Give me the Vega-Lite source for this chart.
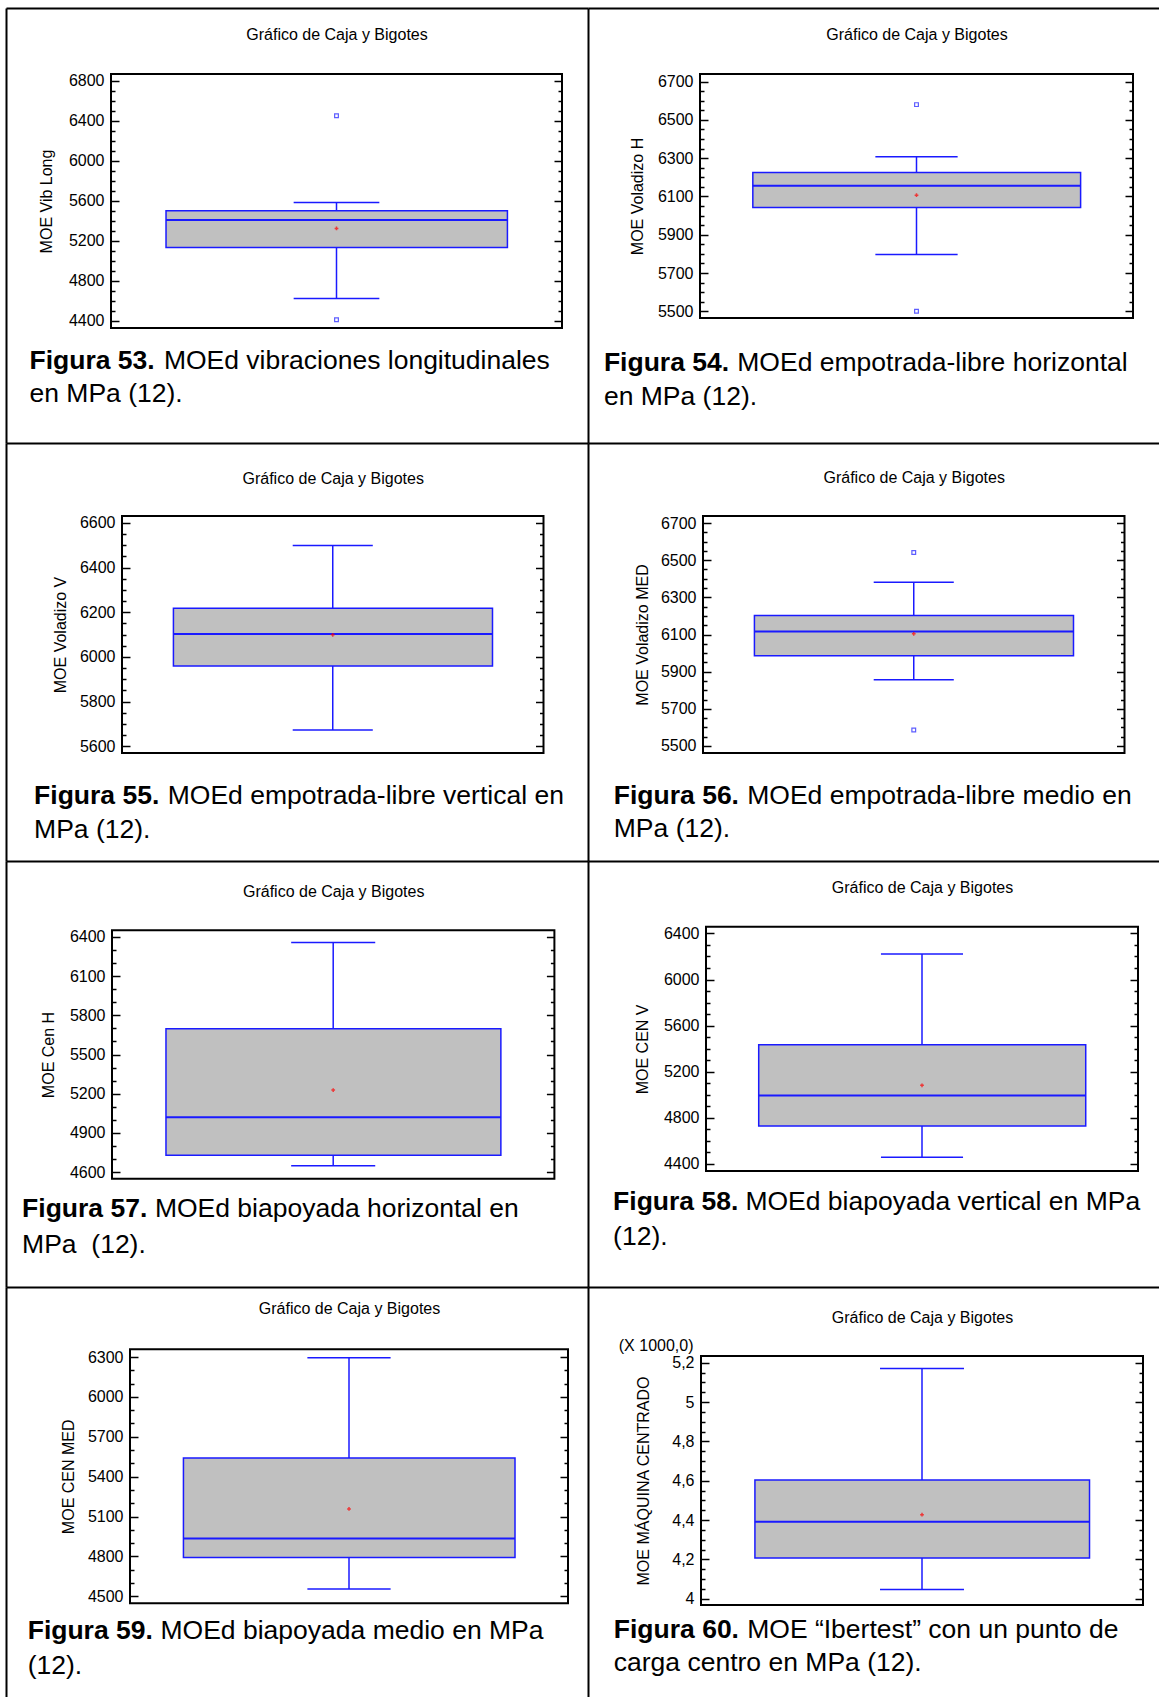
{
  "$schema": "https://vega.github.io/schema/vega-lite/v6.json",
  "background": "white",
  "padding": {"left": 6, "top": 8, "right": 0, "bottom": 0},
  "autosize": {"type": "pad"},
  "bounds": "flush",
  "spacing": 0,
  "columns": 2,
  "config": {
    "font": "Liberation Sans",
    "view": {"stroke": null},
    "axis": {
      "labelFont": "Liberation Sans", "titleFont": "Liberation Sans",
      "labelColor": "black", "titleColor": "black", "tickColor": "black",
      "grid": false, "domain": false, "titleFontWeight": "normal",
      "labelFlush": false, "labelOverlap": false, "labelBound": false,
      "titleLimit": 2000, "labelLimit": 500
    }
  },
  "datasets": {
    "stats": [
      {"panel": 53, "lo": 4623, "q1": 5133, "median": 5407, "q3": 5500, "hi": 5583, "mean": 5323},
      {"panel": 54, "lo": 5797, "q1": 6043, "median": 6156, "q3": 6225, "hi": 6307, "mean": 6107},
      {"panel": 55, "lo": 5673, "q1": 5960, "median": 6103, "q3": 6218, "hi": 6499, "mean": 6099},
      {"panel": 56, "lo": 5856, "q1": 5985, "median": 6116, "q3": 6202, "hi": 6381, "mean": 6104},
      {"panel": 57, "lo": 4649, "q1": 4728, "median": 5019, "q3": 5698, "hi": 6357, "mean": 5228},
      {"panel": 58, "lo": 4458, "q1": 4730, "median": 4993, "q3": 5435, "hi": 6221, "mean": 5082},
      {"panel": 59, "lo": 4555, "q1": 4791, "median": 4934, "q3": 5540, "hi": 6295, "mean": 5157},
      {"panel": 60, "lo": 4047, "q1": 4207, "median": 4391, "q3": 4603, "hi": 5170, "mean": 4427}
    ],
    "outliers": [
      {"panel": 53, "value": 6450}, {"panel": 53, "value": 4410},
      {"panel": 54, "value": 6580}, {"panel": 54, "value": 5500},
      {"panel": 56, "value": 6541}, {"panel": 56, "value": 5586}
    ]
  },
  "concat": [
    {
      "width": 582, "height": 435,
      "data": {"name": "stats"},
      "transform": [{"filter": "datum.panel === 53"}],
      "resolve": {"scale": {"x": "independent", "y": "independent"}, "axis": {"x": "independent", "y": "independent"}},
      "layer": [
        {"mark": {"type": "point", "opacity": 0, "size": 0},
         "encoding": {
           "x": {"datum": 0.5, "type": "quantitative", "scale": {"domain": [0, 1], "nice": false, "zero": false}, "axis": {"orient": "top", "domain": true, "domainColor": "black", "domainWidth": 2, "ticks": false, "labels": false, "title": null}},
           "y": {"datum": 0.5, "type": "quantitative", "scale": {"domain": [0, 1], "nice": false, "zero": false}, "axis": {"orient": "left", "domain": true, "domainColor": "black", "domainWidth": 2, "ticks": false, "labels": false, "title": null}}
         }},
        {"resolve": {"axis": {"x": "independent", "y": "independent"}},
         "layer": [
          {"mark": {"type": "rect", "filled": false, "stroke": "black", "strokeWidth": 2},
           "encoding": {
             "x": {"datum": 0, "type": "quantitative", "scale": {"domain": [0, 1], "range": [105, 556], "nice": false, "zero": false},
                   "axis": {"orient": "top", "offset": 0, "ticks": false, "labels": false, "title": "Gráfico de Caja y Bigotes", "titleFontSize": 16, "titleX": 330.5, "titleY": 31, "titleAlign": "center", "titleBaseline": "alphabetic"}},
             "x2": {"datum": 1},
             "y": {"datum": 4327, "type": "quantitative", "scale": {"domain": [4327, 6867], "range": [320, 66], "nice": false, "zero": false},
                   "axis": {"orient": "left", "offset": -105, "ticks": false, "tickSize": 0, "values": [4400, 4800, 5200, 5600, 6000, 6400, 6800], "format": "d", "labelFontSize": 16, "labelPadding": 7,
                            "title": "MOE Vib Long", "titleFontSize": 16, "titleAngle": 270, "titleX": -65, "titleY": 193, "titleAlign": "center", "titleBaseline": "middle"}},
             "y2": {"datum": 6867}
           }},
          {"mark": {"type": "rule", "color": "#1a1aff", "strokeWidth": 1.5},
           "encoding": {
             "x": {"datum": 0.5, "type": "quantitative", "axis": {"orient": "bottom", "offset": -435, "ticks": false, "labels": false, "title": "Figura 53.", "titleFontSize": 26.5, "titleFontWeight": "bold", "titleX": 23, "titleY": 360, "titleAlign": "left", "titleBaseline": "alphabetic"}},
             "y": {"field": "lo", "type": "quantitative", "axis": {"orient": "right", "offset": -477, "labels": false, "values": [4400, 4800, 5200, 5600, 6000, 6400, 6800], "tickSize": 8, "tickWidth": 1.5, "title": null}},
             "y2": {"field": "hi"}
           }},
          {"mark": {"type": "rect", "fill": "#c0c0c0", "stroke": "#1a1aff", "strokeWidth": 1.5},
           "encoding": {
             "x": {"datum": 0.122, "type": "quantitative", "axis": {"orient": "bottom", "offset": -435, "ticks": false, "labels": false, "title": "MOEd vibraciones longitudinales", "titleFontSize": 26.5, "titleX": 157.4, "titleY": 360, "titleAlign": "left", "titleBaseline": "alphabetic"}},
             "x2": {"datum": 0.879},
             "y": {"field": "q1", "type": "quantitative", "axis": {"orient": "right", "offset": -477, "labels": false, "values": [4500, 4600, 4700, 4900, 5000, 5100, 5300, 5400, 5500, 5700, 5800, 5900, 6100, 6200, 6300, 6500, 6600, 6700], "tickSize": 4, "tickWidth": 1.5, "title": null}},
             "y2": {"field": "q3"}
           }},
          {"mark": {"type": "rule", "color": "#1a1aff", "strokeWidth": 2},
           "encoding": {
             "x": {"datum": 0.122, "type": "quantitative", "axis": {"orient": "bottom", "offset": -435, "ticks": false, "labels": false, "title": "en MPa (12).", "titleFontSize": 26.5, "titleX": 23, "titleY": 393, "titleAlign": "left", "titleBaseline": "alphabetic"}},
             "x2": {"datum": 0.879},
             "y": {"field": "median", "type": "quantitative", "axis": {"orient": "left", "offset": -556, "labels": false, "values": [4400, 4800, 5200, 5600, 6000, 6400, 6800], "tickSize": 8, "tickWidth": 1.5, "title": null}}
           }},
          {"transform": [{"fold": ["lo", "hi"], "as": ["end", "value"]}],
           "mark": {"type": "rule", "color": "#1a1aff", "strokeWidth": 1.5},
           "encoding": {
             "x": {"datum": 0.405, "type": "quantitative", "axis": null},
             "x2": {"datum": 0.595},
             "y": {"field": "value", "type": "quantitative", "axis": {"orient": "left", "offset": -556, "labels": false, "values": [4500, 4600, 4700, 4900, 5000, 5100, 5300, 5400, 5500, 5700, 5800, 5900, 6100, 6200, 6300, 6500, 6600, 6700], "tickSize": 4, "tickWidth": 1.5, "title": null}}
           }},
          {"mark": {"type": "point", "shape": "cross", "filled": true, "color": "#ff0000", "size": 14},
           "encoding": {"x": {"datum": 0.5, "type": "quantitative", "axis": null}, "y": {"field": "mean", "type": "quantitative", "axis": null}}},
          {"data": {"name": "outliers"}, "transform": [{"filter": "datum.panel === 53"}],
           "mark": {"type": "point", "shape": "square", "filled": false, "color": "#1a1aff", "size": 14, "strokeWidth": 1.2},
           "encoding": {"x": {"datum": 0.5, "type": "quantitative", "axis": null}, "y": {"field": "value", "type": "quantitative", "axis": null}}}
         ]}
      ]
    },
    {
      "width": 571, "height": 435,
      "data": {"name": "stats"},
      "transform": [{"filter": "datum.panel === 54"}],
      "resolve": {"scale": {"x": "independent", "y": "independent"}, "axis": {"x": "independent", "y": "independent"}},
      "layer": [
        {"mark": {"type": "point", "opacity": 0, "size": 0},
         "encoding": {
           "x": {"datum": 0.5, "type": "quantitative", "scale": {"domain": [0, 1], "nice": false, "zero": false}, "axis": {"orient": "top", "domain": true, "domainColor": "black", "domainWidth": 2, "ticks": false, "labels": false, "title": null}},
           "y": {"datum": 0.5, "type": "quantitative", "scale": {"domain": [0, 1], "nice": false, "zero": false}, "axis": {"orient": "left", "domain": true, "domainColor": "black", "domainWidth": 2, "ticks": false, "labels": false, "title": null}}
         }},
        {"resolve": {"axis": {"x": "independent", "y": "independent"}},
         "layer": [
          {"mark": {"type": "rect", "filled": false, "stroke": "black", "strokeWidth": 2},
           "encoding": {
             "x": {"datum": 0, "type": "quantitative", "scale": {"domain": [0, 1], "range": [112, 545], "nice": false, "zero": false},
                   "axis": {"orient": "top", "offset": 0, "ticks": false, "labels": false, "title": "Gráfico de Caja y Bigotes", "titleFontSize": 16, "titleX": 328.5, "titleY": 31.7, "titleAlign": "center", "titleBaseline": "alphabetic"}},
             "x2": {"datum": 1},
             "y": {"datum": 5465, "type": "quantitative", "scale": {"domain": [5465, 6740], "range": [310, 66], "nice": false, "zero": false},
                   "axis": {"orient": "left", "offset": -112, "ticks": false, "tickSize": 0, "values": [5500, 5700, 5900, 6100, 6300, 6500, 6700], "format": "d", "labelFontSize": 16, "labelPadding": 7,
                            "title": "MOE Voladizo H", "titleFontSize": 16, "titleAngle": 270, "titleX": -63, "titleY": 188, "titleAlign": "center", "titleBaseline": "middle"}},
             "y2": {"datum": 6740}
           }},
          {"mark": {"type": "rule", "color": "#1a1aff", "strokeWidth": 1.5},
           "encoding": {
             "x": {"datum": 0.5, "type": "quantitative", "axis": {"orient": "bottom", "offset": -435, "ticks": false, "labels": false, "title": "Figura 54.", "titleFontSize": 26.5, "titleFontWeight": "bold", "titleX": 15.4, "titleY": 362, "titleAlign": "left", "titleBaseline": "alphabetic"}},
             "y": {"field": "lo", "type": "quantitative", "axis": {"orient": "right", "offset": -459, "labels": false, "values": [5500, 5700, 5900, 6100, 6300, 6500, 6700], "tickSize": 8, "tickWidth": 1.5, "title": null}},
             "y2": {"field": "hi"}
           }},
          {"mark": {"type": "rect", "fill": "#c0c0c0", "stroke": "#1a1aff", "strokeWidth": 1.5},
           "encoding": {
             "x": {"datum": 0.122, "type": "quantitative", "axis": {"orient": "bottom", "offset": -435, "ticks": false, "labels": false, "title": "MOEd empotrada-libre horizontal", "titleFontSize": 26.5, "titleX": 148.8, "titleY": 362, "titleAlign": "left", "titleBaseline": "alphabetic"}},
             "x2": {"datum": 0.879},
             "y": {"field": "q1", "type": "quantitative", "axis": {"orient": "right", "offset": -459, "labels": false, "values": [5550, 5600, 5650, 5750, 5800, 5850, 5950, 6000, 6050, 6150, 6200, 6250, 6350, 6400, 6450, 6550, 6600, 6650], "tickSize": 4, "tickWidth": 1.5, "title": null}},
             "y2": {"field": "q3"}
           }},
          {"mark": {"type": "rule", "color": "#1a1aff", "strokeWidth": 2},
           "encoding": {
             "x": {"datum": 0.122, "type": "quantitative", "axis": {"orient": "bottom", "offset": -435, "ticks": false, "labels": false, "title": "en MPa (12).", "titleFontSize": 26.5, "titleX": 15.4, "titleY": 396, "titleAlign": "left", "titleBaseline": "alphabetic"}},
             "x2": {"datum": 0.879},
             "y": {"field": "median", "type": "quantitative", "axis": {"orient": "left", "offset": -545, "labels": false, "values": [5500, 5700, 5900, 6100, 6300, 6500, 6700], "tickSize": 8, "tickWidth": 1.5, "title": null}}
           }},
          {"transform": [{"fold": ["lo", "hi"], "as": ["end", "value"]}],
           "mark": {"type": "rule", "color": "#1a1aff", "strokeWidth": 1.5},
           "encoding": {
             "x": {"datum": 0.405, "type": "quantitative", "axis": null},
             "x2": {"datum": 0.595},
             "y": {"field": "value", "type": "quantitative", "axis": {"orient": "left", "offset": -545, "labels": false, "values": [5550, 5600, 5650, 5750, 5800, 5850, 5950, 6000, 6050, 6150, 6200, 6250, 6350, 6400, 6450, 6550, 6600, 6650], "tickSize": 4, "tickWidth": 1.5, "title": null}}
           }},
          {"mark": {"type": "point", "shape": "cross", "filled": true, "color": "#ff0000", "size": 14},
           "encoding": {"x": {"datum": 0.5, "type": "quantitative", "axis": null}, "y": {"field": "mean", "type": "quantitative", "axis": null}}},
          {"data": {"name": "outliers"}, "transform": [{"filter": "datum.panel === 54"}],
           "mark": {"type": "point", "shape": "square", "filled": false, "color": "#1a1aff", "size": 14, "strokeWidth": 1.2},
           "encoding": {"x": {"datum": 0.5, "type": "quantitative", "axis": null}, "y": {"field": "value", "type": "quantitative", "axis": null}}}
         ]}
      ]
    },
    {
      "width": 582, "height": 418,
      "data": {"name": "stats"},
      "transform": [{"filter": "datum.panel === 55"}],
      "resolve": {"scale": {"x": "independent", "y": "independent"}, "axis": {"x": "independent", "y": "independent"}},
      "layer": [
        {"mark": {"type": "point", "opacity": 0, "size": 0},
         "encoding": {
           "x": {"datum": 0.5, "type": "quantitative", "scale": {"domain": [0, 1], "nice": false, "zero": false}, "axis": {"orient": "top", "domain": true, "domainColor": "black", "domainWidth": 2, "ticks": false, "labels": false, "title": null}},
           "y": {"datum": 0.5, "type": "quantitative", "scale": {"domain": [0, 1], "nice": false, "zero": false}, "axis": {"orient": "left", "domain": true, "domainColor": "black", "domainWidth": 2, "ticks": false, "labels": false, "title": null}}
         }},
        {"resolve": {"axis": {"x": "independent", "y": "independent"}},
         "layer": [
          {"mark": {"type": "rect", "filled": false, "stroke": "black", "strokeWidth": 2},
           "encoding": {
             "x": {"datum": 0, "type": "quantitative", "scale": {"domain": [0, 1], "range": [116, 537.5], "nice": false, "zero": false},
                   "axis": {"orient": "top", "offset": 0, "ticks": false, "labels": false, "title": "Gráfico de Caja y Bigotes", "titleFontSize": 16, "titleX": 326.7, "titleY": 40.7, "titleAlign": "center", "titleBaseline": "alphabetic"}},
             "x2": {"datum": 1},
             "y": {"datum": 5570, "type": "quantitative", "scale": {"domain": [5570, 6631], "range": [310, 73], "nice": false, "zero": false},
                   "axis": {"orient": "left", "offset": -116, "ticks": false, "tickSize": 0, "values": [5600, 5800, 6000, 6200, 6400, 6600], "format": "d", "labelFontSize": 16, "labelPadding": 7,
                            "title": "MOE Voladizo V", "titleFontSize": 16, "titleAngle": 270, "titleX": -62, "titleY": 191.5, "titleAlign": "center", "titleBaseline": "middle"}},
             "y2": {"datum": 6631}
           }},
          {"mark": {"type": "rule", "color": "#1a1aff", "strokeWidth": 1.5},
           "encoding": {
             "x": {"datum": 0.5, "type": "quantitative", "axis": {"orient": "bottom", "offset": -418, "ticks": false, "labels": false, "title": "Figura 55.", "titleFontSize": 26.5, "titleFontWeight": "bold", "titleX": 27.6, "titleY": 360.7, "titleAlign": "left", "titleBaseline": "alphabetic"}},
             "y": {"field": "lo", "type": "quantitative", "axis": {"orient": "right", "offset": -466, "labels": false, "values": [5600, 5800, 6000, 6200, 6400, 6600], "tickSize": 8, "tickWidth": 1.5, "title": null}},
             "y2": {"field": "hi"}
           }},
          {"mark": {"type": "rect", "fill": "#c0c0c0", "stroke": "#1a1aff", "strokeWidth": 1.5},
           "encoding": {
             "x": {"datum": 0.122, "type": "quantitative", "axis": {"orient": "bottom", "offset": -418, "ticks": false, "labels": false, "title": "MOEd empotrada-libre vertical en", "titleFontSize": 26.5, "titleX": 161.2, "titleY": 360.7, "titleAlign": "left", "titleBaseline": "alphabetic"}},
             "x2": {"datum": 0.879},
             "y": {"field": "q1", "type": "quantitative", "axis": {"orient": "right", "offset": -466, "labels": false, "values": [5650, 5700, 5750, 5850, 5900, 5950, 6050, 6100, 6150, 6250, 6300, 6350, 6450, 6500, 6550], "tickSize": 4, "tickWidth": 1.5, "title": null}},
             "y2": {"field": "q3"}
           }},
          {"mark": {"type": "rule", "color": "#1a1aff", "strokeWidth": 2},
           "encoding": {
             "x": {"datum": 0.122, "type": "quantitative", "axis": {"orient": "bottom", "offset": -418, "ticks": false, "labels": false, "title": "MPa (12).", "titleFontSize": 26.5, "titleX": 27.6, "titleY": 394, "titleAlign": "left", "titleBaseline": "alphabetic"}},
             "x2": {"datum": 0.879},
             "y": {"field": "median", "type": "quantitative", "axis": {"orient": "left", "offset": -537.5, "labels": false, "values": [5600, 5800, 6000, 6200, 6400, 6600], "tickSize": 8, "tickWidth": 1.5, "title": null}}
           }},
          {"transform": [{"fold": ["lo", "hi"], "as": ["end", "value"]}],
           "mark": {"type": "rule", "color": "#1a1aff", "strokeWidth": 1.5},
           "encoding": {
             "x": {"datum": 0.405, "type": "quantitative", "axis": null},
             "x2": {"datum": 0.595},
             "y": {"field": "value", "type": "quantitative", "axis": {"orient": "left", "offset": -537.5, "labels": false, "values": [5650, 5700, 5750, 5850, 5900, 5950, 6050, 6100, 6150, 6250, 6300, 6350, 6450, 6500, 6550], "tickSize": 4, "tickWidth": 1.5, "title": null}}
           }},
          {"mark": {"type": "point", "shape": "cross", "filled": true, "color": "#ff0000", "size": 14},
           "encoding": {"x": {"datum": 0.5, "type": "quantitative", "axis": null}, "y": {"field": "mean", "type": "quantitative", "axis": null}}}
         ]}
      ]
    },
    {
      "width": 571, "height": 418,
      "data": {"name": "stats"},
      "transform": [{"filter": "datum.panel === 56"}],
      "resolve": {"scale": {"x": "independent", "y": "independent"}, "axis": {"x": "independent", "y": "independent"}},
      "layer": [
        {"mark": {"type": "point", "opacity": 0, "size": 0},
         "encoding": {
           "x": {"datum": 0.5, "type": "quantitative", "scale": {"domain": [0, 1], "nice": false, "zero": false}, "axis": {"orient": "top", "domain": true, "domainColor": "black", "domainWidth": 2, "ticks": false, "labels": false, "title": null}},
           "y": {"datum": 0.5, "type": "quantitative", "scale": {"domain": [0, 1], "nice": false, "zero": false}, "axis": {"orient": "left", "domain": true, "domainColor": "black", "domainWidth": 2, "ticks": false, "labels": false, "title": null}}
         }},
        {"resolve": {"axis": {"x": "independent", "y": "independent"}},
         "layer": [
          {"mark": {"type": "rect", "filled": false, "stroke": "black", "strokeWidth": 2},
           "encoding": {
             "x": {"datum": 0, "type": "quantitative", "scale": {"domain": [0, 1], "range": [115, 536.5], "nice": false, "zero": false},
                   "axis": {"orient": "top", "offset": 0, "ticks": false, "labels": false, "title": "Gráfico de Caja y Bigotes", "titleFontSize": 16, "titleX": 325.7, "titleY": 39.7, "titleAlign": "center", "titleBaseline": "alphabetic"}},
             "x2": {"datum": 1},
             "y": {"datum": 5462, "type": "quantitative", "scale": {"domain": [5462, 6738], "range": [310, 73], "nice": false, "zero": false},
                   "axis": {"orient": "left", "offset": -115, "ticks": false, "tickSize": 0, "values": [5500, 5700, 5900, 6100, 6300, 6500, 6700], "format": "d", "labelFontSize": 16, "labelPadding": 7,
                            "title": "MOE Voladizo MED", "titleFontSize": 16, "titleAngle": 270, "titleX": -61, "titleY": 191.5, "titleAlign": "center", "titleBaseline": "middle"}},
             "y2": {"datum": 6738}
           }},
          {"mark": {"type": "rule", "color": "#1a1aff", "strokeWidth": 1.5},
           "encoding": {
             "x": {"datum": 0.5, "type": "quantitative", "axis": {"orient": "bottom", "offset": -418, "ticks": false, "labels": false, "title": "Figura 56.", "titleFontSize": 26.5, "titleFontWeight": "bold", "titleX": 25.3, "titleY": 360, "titleAlign": "left", "titleBaseline": "alphabetic"}},
             "y": {"field": "lo", "type": "quantitative", "axis": {"orient": "right", "offset": -456, "labels": false, "values": [5500, 5700, 5900, 6100, 6300, 6500, 6700], "tickSize": 8, "tickWidth": 1.5, "title": null}},
             "y2": {"field": "hi"}
           }},
          {"mark": {"type": "rect", "fill": "#c0c0c0", "stroke": "#1a1aff", "strokeWidth": 1.5},
           "encoding": {
             "x": {"datum": 0.122, "type": "quantitative", "axis": {"orient": "bottom", "offset": -418, "ticks": false, "labels": false, "title": "MOEd empotrada-libre medio en", "titleFontSize": 26.5, "titleX": 158.7, "titleY": 360, "titleAlign": "left", "titleBaseline": "alphabetic"}},
             "x2": {"datum": 0.879},
             "y": {"field": "q1", "type": "quantitative", "axis": {"orient": "right", "offset": -456, "labels": false, "values": [5550, 5600, 5650, 5750, 5800, 5850, 5950, 6000, 6050, 6150, 6200, 6250, 6350, 6400, 6450, 6550, 6600, 6650], "tickSize": 4, "tickWidth": 1.5, "title": null}},
             "y2": {"field": "q3"}
           }},
          {"mark": {"type": "rule", "color": "#1a1aff", "strokeWidth": 2},
           "encoding": {
             "x": {"datum": 0.122, "type": "quantitative", "axis": {"orient": "bottom", "offset": -418, "ticks": false, "labels": false, "title": "MPa (12).", "titleFontSize": 26.5, "titleX": 25.3, "titleY": 393.3, "titleAlign": "left", "titleBaseline": "alphabetic"}},
             "x2": {"datum": 0.879},
             "y": {"field": "median", "type": "quantitative", "axis": {"orient": "left", "offset": -536.5, "labels": false, "values": [5500, 5700, 5900, 6100, 6300, 6500, 6700], "tickSize": 8, "tickWidth": 1.5, "title": null}}
           }},
          {"transform": [{"fold": ["lo", "hi"], "as": ["end", "value"]}],
           "mark": {"type": "rule", "color": "#1a1aff", "strokeWidth": 1.5},
           "encoding": {
             "x": {"datum": 0.405, "type": "quantitative", "axis": null},
             "x2": {"datum": 0.595},
             "y": {"field": "value", "type": "quantitative", "axis": {"orient": "left", "offset": -536.5, "labels": false, "values": [5550, 5600, 5650, 5750, 5800, 5850, 5950, 6000, 6050, 6150, 6200, 6250, 6350, 6400, 6450, 6550, 6600, 6650], "tickSize": 4, "tickWidth": 1.5, "title": null}}
           }},
          {"mark": {"type": "point", "shape": "cross", "filled": true, "color": "#ff0000", "size": 14},
           "encoding": {"x": {"datum": 0.5, "type": "quantitative", "axis": null}, "y": {"field": "mean", "type": "quantitative", "axis": null}}},
          {"data": {"name": "outliers"}, "transform": [{"filter": "datum.panel === 56"}],
           "mark": {"type": "point", "shape": "square", "filled": false, "color": "#1a1aff", "size": 14, "strokeWidth": 1.2},
           "encoding": {"x": {"datum": 0.5, "type": "quantitative", "axis": null}, "y": {"field": "value", "type": "quantitative", "axis": null}}}
         ]}
      ]
    },
    {
      "width": 582, "height": 426,
      "data": {"name": "stats"},
      "transform": [{"filter": "datum.panel === 57"}],
      "resolve": {"scale": {"x": "independent", "y": "independent"}, "axis": {"x": "independent", "y": "independent"}},
      "layer": [
        {"mark": {"type": "point", "opacity": 0, "size": 0},
         "encoding": {
           "x": {"datum": 0.5, "type": "quantitative", "scale": {"domain": [0, 1], "nice": false, "zero": false}, "axis": {"orient": "top", "domain": true, "domainColor": "black", "domainWidth": 2, "ticks": false, "labels": false, "title": null}},
           "y": {"datum": 0.5, "type": "quantitative", "scale": {"domain": [0, 1], "nice": false, "zero": false}, "axis": {"orient": "left", "domain": true, "domainColor": "black", "domainWidth": 2, "ticks": false, "labels": false, "title": null}}
         }},
        {"resolve": {"axis": {"x": "independent", "y": "independent"}},
         "layer": [
          {"mark": {"type": "rect", "filled": false, "stroke": "black", "strokeWidth": 2},
           "encoding": {
             "x": {"datum": 0, "type": "quantitative", "scale": {"domain": [0, 1], "range": [106, 548.4], "nice": false, "zero": false},
                   "axis": {"orient": "top", "offset": 0, "ticks": false, "labels": false, "title": "Gráfico de Caja y Bigotes", "titleFontSize": 16, "titleX": 327.2, "titleY": 35, "titleAlign": "center", "titleBaseline": "alphabetic"}},
             "x2": {"datum": 1},
             "y": {"datum": 4549, "type": "quantitative", "scale": {"domain": [4549, 6451], "range": [317.7, 69.3], "nice": false, "zero": false},
                   "axis": {"orient": "left", "offset": -106, "ticks": false, "tickSize": 0, "values": [4600, 4900, 5200, 5500, 5800, 6100, 6400], "format": "d", "labelFontSize": 16, "labelPadding": 7,
                            "title": "MOE Cen H", "titleFontSize": 16, "titleAngle": 270, "titleX": -64, "titleY": 193.5, "titleAlign": "center", "titleBaseline": "middle"}},
             "y2": {"datum": 6451}
           }},
          {"mark": {"type": "rule", "color": "#1a1aff", "strokeWidth": 1.5},
           "encoding": {
             "x": {"datum": 0.5, "type": "quantitative", "axis": {"orient": "bottom", "offset": -426, "ticks": false, "labels": false, "title": "Figura 57.", "titleFontSize": 26.5, "titleFontWeight": "bold", "titleX": 15.6, "titleY": 355, "titleAlign": "left", "titleBaseline": "alphabetic"}},
             "y": {"field": "lo", "type": "quantitative", "axis": {"orient": "right", "offset": -476, "labels": false, "values": [4600, 4900, 5200, 5500, 5800, 6100, 6400], "tickSize": 8, "tickWidth": 1.5, "title": null}},
             "y2": {"field": "hi"}
           }},
          {"mark": {"type": "rect", "fill": "#c0c0c0", "stroke": "#1a1aff", "strokeWidth": 1.5},
           "encoding": {
             "x": {"datum": 0.122, "type": "quantitative", "axis": {"orient": "bottom", "offset": -426, "ticks": false, "labels": false, "title": "MOEd biapoyada horizontal en", "titleFontSize": 26.5, "titleX": 148.4, "titleY": 355, "titleAlign": "left", "titleBaseline": "alphabetic"}},
             "x2": {"datum": 0.879},
             "y": {"field": "q1", "type": "quantitative", "axis": {"orient": "right", "offset": -476, "labels": false, "values": [4700, 4800, 5000, 5100, 5300, 5400, 5600, 5700, 5900, 6000, 6200, 6300], "tickSize": 4, "tickWidth": 1.5, "title": null}},
             "y2": {"field": "q3"}
           }},
          {"mark": {"type": "rule", "color": "#1a1aff", "strokeWidth": 2},
           "encoding": {
             "x": {"datum": 0.122, "type": "quantitative", "axis": {"orient": "bottom", "offset": -426, "ticks": false, "labels": false, "title": "MPa \u00a0(12).", "titleFontSize": 26.5, "titleX": 15.6, "titleY": 391.7, "titleAlign": "left", "titleBaseline": "alphabetic"}},
             "x2": {"datum": 0.879},
             "y": {"field": "median", "type": "quantitative", "axis": {"orient": "left", "offset": -548.4, "labels": false, "values": [4600, 4900, 5200, 5500, 5800, 6100, 6400], "tickSize": 8, "tickWidth": 1.5, "title": null}}
           }},
          {"transform": [{"fold": ["lo", "hi"], "as": ["end", "value"]}],
           "mark": {"type": "rule", "color": "#1a1aff", "strokeWidth": 1.5},
           "encoding": {
             "x": {"datum": 0.405, "type": "quantitative", "axis": null},
             "x2": {"datum": 0.595},
             "y": {"field": "value", "type": "quantitative", "axis": {"orient": "left", "offset": -548.4, "labels": false, "values": [4700, 4800, 5000, 5100, 5300, 5400, 5600, 5700, 5900, 6000, 6200, 6300], "tickSize": 4, "tickWidth": 1.5, "title": null}}
           }},
          {"mark": {"type": "point", "shape": "cross", "filled": true, "color": "#ff0000", "size": 14},
           "encoding": {"x": {"datum": 0.5, "type": "quantitative", "axis": null}, "y": {"field": "mean", "type": "quantitative", "axis": null}}}
         ]}
      ]
    },
    {
      "width": 571, "height": 426,
      "data": {"name": "stats"},
      "transform": [{"filter": "datum.panel === 58"}],
      "resolve": {"scale": {"x": "independent", "y": "independent"}, "axis": {"x": "independent", "y": "independent"}},
      "layer": [
        {"mark": {"type": "point", "opacity": 0, "size": 0},
         "encoding": {
           "x": {"datum": 0.5, "type": "quantitative", "scale": {"domain": [0, 1], "nice": false, "zero": false}, "axis": {"orient": "top", "domain": true, "domainColor": "black", "domainWidth": 2, "ticks": false, "labels": false, "title": null}},
           "y": {"datum": 0.5, "type": "quantitative", "scale": {"domain": [0, 1], "nice": false, "zero": false}, "axis": {"orient": "left", "domain": true, "domainColor": "black", "domainWidth": 2, "ticks": false, "labels": false, "title": null}}
         }},
        {"resolve": {"axis": {"x": "independent", "y": "independent"}},
         "layer": [
          {"mark": {"type": "rect", "filled": false, "stroke": "black", "strokeWidth": 2},
           "encoding": {
             "x": {"datum": 0, "type": "quantitative", "scale": {"domain": [0, 1], "range": [118, 550], "nice": false, "zero": false},
                   "axis": {"orient": "top", "offset": 0, "ticks": false, "labels": false, "title": "Gráfico de Caja y Bigotes", "titleFontSize": 16, "titleX": 334, "titleY": 31.7, "titleAlign": "center", "titleBaseline": "alphabetic"}},
             "x2": {"datum": 1},
             "y": {"datum": 4339, "type": "quantitative", "scale": {"domain": [4339, 6458], "range": [310, 65.7], "nice": false, "zero": false},
                   "axis": {"orient": "left", "offset": -118, "ticks": false, "tickSize": 0, "values": [4400, 4800, 5200, 5600, 6000, 6400], "format": "d", "labelFontSize": 16, "labelPadding": 7,
                            "title": "MOE CEN V", "titleFontSize": 16, "titleAngle": 270, "titleX": -63.5, "titleY": 187.9, "titleAlign": "center", "titleBaseline": "middle"}},
             "y2": {"datum": 6458}
           }},
          {"mark": {"type": "rule", "color": "#1a1aff", "strokeWidth": 1.5},
           "encoding": {
             "x": {"datum": 0.5, "type": "quantitative", "axis": {"orient": "bottom", "offset": -426, "ticks": false, "labels": false, "title": "Figura 58.", "titleFontSize": 26.5, "titleFontWeight": "bold", "titleX": 24.6, "titleY": 348.3, "titleAlign": "left", "titleBaseline": "alphabetic"}},
             "y": {"field": "lo", "type": "quantitative", "axis": {"orient": "right", "offset": -453, "labels": false, "values": [4400, 4800, 5200, 5600, 6000, 6400], "tickSize": 8, "tickWidth": 1.5, "title": null}},
             "y2": {"field": "hi"}
           }},
          {"mark": {"type": "rect", "fill": "#c0c0c0", "stroke": "#1a1aff", "strokeWidth": 1.5},
           "encoding": {
             "x": {"datum": 0.122, "type": "quantitative", "axis": {"orient": "bottom", "offset": -426, "ticks": false, "labels": false, "title": "MOEd biapoyada vertical en MPa", "titleFontSize": 26.5, "titleX": 156.9, "titleY": 348.3, "titleAlign": "left", "titleBaseline": "alphabetic"}},
             "x2": {"datum": 0.879},
             "y": {"field": "q1", "type": "quantitative", "axis": {"orient": "right", "offset": -453, "labels": false, "values": [4500, 4600, 4700, 4900, 5000, 5100, 5300, 5400, 5500, 5700, 5800, 5900, 6100, 6200, 6300], "tickSize": 4, "tickWidth": 1.5, "title": null}},
             "y2": {"field": "q3"}
           }},
          {"mark": {"type": "rule", "color": "#1a1aff", "strokeWidth": 2},
           "encoding": {
             "x": {"datum": 0.122, "type": "quantitative", "axis": {"orient": "bottom", "offset": -426, "ticks": false, "labels": false, "title": "(12).", "titleFontSize": 26.5, "titleX": 24.6, "titleY": 383.3, "titleAlign": "left", "titleBaseline": "alphabetic"}},
             "x2": {"datum": 0.879},
             "y": {"field": "median", "type": "quantitative", "axis": {"orient": "left", "offset": -550, "labels": false, "values": [4400, 4800, 5200, 5600, 6000, 6400], "tickSize": 8, "tickWidth": 1.5, "title": null}}
           }},
          {"transform": [{"fold": ["lo", "hi"], "as": ["end", "value"]}],
           "mark": {"type": "rule", "color": "#1a1aff", "strokeWidth": 1.5},
           "encoding": {
             "x": {"datum": 0.405, "type": "quantitative", "axis": null},
             "x2": {"datum": 0.595},
             "y": {"field": "value", "type": "quantitative", "axis": {"orient": "left", "offset": -550, "labels": false, "values": [4500, 4600, 4700, 4900, 5000, 5100, 5300, 5400, 5500, 5700, 5800, 5900, 6100, 6200, 6300], "tickSize": 4, "tickWidth": 1.5, "title": null}}
           }},
          {"mark": {"type": "point", "shape": "cross", "filled": true, "color": "#ff0000", "size": 14},
           "encoding": {"x": {"datum": 0.5, "type": "quantitative", "axis": null}, "y": {"field": "mean", "type": "quantitative", "axis": null}}}
         ]}
      ]
    },
    {
      "width": 582, "height": 410,
      "data": {"name": "stats"},
      "transform": [{"filter": "datum.panel === 59"}],
      "resolve": {"scale": {"x": "independent", "y": "independent"}, "axis": {"x": "independent", "y": "independent"}},
      "layer": [
        {"mark": {"type": "point", "opacity": 0, "size": 0},
         "encoding": {
           "x": {"datum": 0.5, "type": "quantitative", "scale": {"domain": [0, 1], "nice": false, "zero": false}, "axis": {"orient": "top", "domain": true, "domainColor": "black", "domainWidth": 2, "ticks": false, "labels": false, "title": null}},
           "y": {"datum": 0.5, "type": "quantitative", "scale": {"domain": [0, 1], "nice": false, "zero": false}, "axis": {"orient": "left", "domain": true, "domainColor": "black", "domainWidth": 2, "ticks": false, "labels": false, "title": null}}
         }},
        {"resolve": {"axis": {"x": "independent", "y": "independent"}},
         "layer": [
          {"mark": {"type": "rect", "filled": false, "stroke": "black", "strokeWidth": 2},
           "encoding": {
             "x": {"datum": 0, "type": "quantitative", "scale": {"domain": [0, 1], "range": [124, 562], "nice": false, "zero": false},
                   "axis": {"orient": "top", "offset": 0, "ticks": false, "labels": false, "title": "Gráfico de Caja y Bigotes", "titleFontSize": 16, "titleX": 343, "titleY": 26.7, "titleAlign": "center", "titleBaseline": "alphabetic"}},
             "x2": {"datum": 1},
             "y": {"datum": 4447, "type": "quantitative", "scale": {"domain": [4447, 6358], "range": [316.3, 62.3], "nice": false, "zero": false},
                   "axis": {"orient": "left", "offset": -124, "ticks": false, "tickSize": 0, "values": [4500, 4800, 5100, 5400, 5700, 6000, 6300], "format": "d", "labelFontSize": 16, "labelPadding": 7,
                            "title": "MOE CEN MED", "titleFontSize": 16, "titleAngle": 270, "titleX": -62, "titleY": 189.3, "titleAlign": "center", "titleBaseline": "middle"}},
             "y2": {"datum": 6358}
           }},
          {"mark": {"type": "rule", "color": "#1a1aff", "strokeWidth": 1.5},
           "encoding": {
             "x": {"datum": 0.5, "type": "quantitative", "axis": {"orient": "bottom", "offset": -410, "ticks": false, "labels": false, "title": "Figura 59.", "titleFontSize": 26.5, "titleFontWeight": "bold", "titleX": 21.2, "titleY": 351.7, "titleAlign": "left", "titleBaseline": "alphabetic"}},
             "y": {"field": "lo", "type": "quantitative", "axis": {"orient": "right", "offset": -458, "labels": false, "values": [4500, 4800, 5100, 5400, 5700, 6000, 6300], "tickSize": 8, "tickWidth": 1.5, "title": null}},
             "y2": {"field": "hi"}
           }},
          {"mark": {"type": "rect", "fill": "#c0c0c0", "stroke": "#1a1aff", "strokeWidth": 1.5},
           "encoding": {
             "x": {"datum": 0.122, "type": "quantitative", "axis": {"orient": "bottom", "offset": -410, "ticks": false, "labels": false, "title": "MOEd biapoyada medio en MPa", "titleFontSize": 26.5, "titleX": 154, "titleY": 351.7, "titleAlign": "left", "titleBaseline": "alphabetic"}},
             "x2": {"datum": 0.879},
             "y": {"field": "q1", "type": "quantitative", "axis": {"orient": "right", "offset": -458, "labels": false, "values": [4600, 4700, 4900, 5000, 5200, 5300, 5500, 5600, 5800, 5900, 6100, 6200], "tickSize": 4, "tickWidth": 1.5, "title": null}},
             "y2": {"field": "q3"}
           }},
          {"mark": {"type": "rule", "color": "#1a1aff", "strokeWidth": 2},
           "encoding": {
             "x": {"datum": 0.122, "type": "quantitative", "axis": {"orient": "bottom", "offset": -410, "ticks": false, "labels": false, "title": "(12).", "titleFontSize": 26.5, "titleX": 21.2, "titleY": 386.7, "titleAlign": "left", "titleBaseline": "alphabetic"}},
             "x2": {"datum": 0.879},
             "y": {"field": "median", "type": "quantitative", "axis": {"orient": "left", "offset": -562, "labels": false, "values": [4500, 4800, 5100, 5400, 5700, 6000, 6300], "tickSize": 8, "tickWidth": 1.5, "title": null}}
           }},
          {"transform": [{"fold": ["lo", "hi"], "as": ["end", "value"]}],
           "mark": {"type": "rule", "color": "#1a1aff", "strokeWidth": 1.5},
           "encoding": {
             "x": {"datum": 0.405, "type": "quantitative", "axis": null},
             "x2": {"datum": 0.595},
             "y": {"field": "value", "type": "quantitative", "axis": {"orient": "left", "offset": -562, "labels": false, "values": [4600, 4700, 4900, 5000, 5200, 5300, 5500, 5600, 5800, 5900, 6100, 6200], "tickSize": 4, "tickWidth": 1.5, "title": null}}
           }},
          {"mark": {"type": "point", "shape": "cross", "filled": true, "color": "#ff0000", "size": 14},
           "encoding": {"x": {"datum": 0.5, "type": "quantitative", "axis": null}, "y": {"field": "mean", "type": "quantitative", "axis": null}}}
         ]}
      ]
    },
    {
      "width": 571, "height": 410,
      "data": {"name": "stats"},
      "transform": [{"filter": "datum.panel === 60"}],
      "resolve": {"scale": {"x": "independent", "y": "independent"}, "axis": {"x": "independent", "y": "independent"}},
      "layer": [
        {"mark": {"type": "point", "opacity": 0, "size": 0},
         "encoding": {
           "x": {"datum": 0.5, "type": "quantitative", "scale": {"domain": [0, 1], "nice": false, "zero": false}, "axis": {"orient": "top", "domain": true, "domainColor": "black", "domainWidth": 2, "ticks": false, "labels": false, "title": null}},
           "y": {"datum": 0.5, "type": "quantitative", "scale": {"domain": [0, 1], "nice": false, "zero": false}, "axis": {"orient": "left", "domain": true, "domainColor": "black", "domainWidth": 2, "ticks": false, "labels": false, "title": null}}
         }},
        {"resolve": {"axis": {"x": "independent", "y": "independent"}},
         "layer": [
          {"mark": {"type": "rect", "filled": false, "stroke": "black", "strokeWidth": 2},
           "encoding": {
             "x": {"datum": 0, "type": "quantitative", "scale": {"domain": [0, 1], "range": [113, 555], "nice": false, "zero": false},
                   "axis": {"orient": "top", "offset": 0, "ticks": false, "labels": false, "title": "Gráfico de Caja y Bigotes", "titleFontSize": 16, "titleX": 334, "titleY": 35, "titleAlign": "center", "titleBaseline": "alphabetic"}},
             "x2": {"datum": 1},
             "y": {"datum": 3968, "type": "quantitative", "scale": {"domain": [3968, 5234], "range": [318, 69], "nice": false, "zero": false},
                   "axis": {"orient": "left", "offset": -113, "ticks": false, "tickSize": 0, "values": [4000, 4200, 4400, 4600, 4800, 5000, 5200], "labelExpr": "replace(format(datum.value / 1000, '.1~f'), '.', ',')", "labelFontSize": 16, "labelPadding": 7,
                            "title": "MOE MÁQUINA CENTRADO", "titleFontSize": 16, "titleAngle": 270, "titleX": -57.4, "titleY": 193.5, "titleAlign": "center", "titleBaseline": "middle"}},
             "y2": {"datum": 5234}
           }},
          {"mark": {"type": "rule", "color": "#1a1aff", "strokeWidth": 1.5},
           "encoding": {
             "x": {"datum": 0.5, "type": "quantitative", "axis": {"orient": "bottom", "offset": -410, "ticks": false, "labels": false, "title": "Figura 60.", "titleFontSize": 26.5, "titleFontWeight": "bold", "titleX": 25.3, "titleY": 350, "titleAlign": "left", "titleBaseline": "alphabetic"}},
             "y": {"field": "lo", "type": "quantitative", "axis": {"orient": "right", "offset": -458, "labels": false, "values": [4000, 4200, 4400, 4600, 4800, 5000, 5200], "tickSize": 8, "tickWidth": 1.5,
                   "title": "(X 1000,0)", "titleFontSize": 16, "titleAngle": 0, "titleX": -8, "titleY": 63.7, "titleAlign": "right", "titleBaseline": "alphabetic"}},
             "y2": {"field": "hi"}
           }},
          {"mark": {"type": "rect", "fill": "#c0c0c0", "stroke": "#1a1aff", "strokeWidth": 1.5},
           "encoding": {
             "x": {"datum": 0.122, "type": "quantitative", "axis": {"orient": "bottom", "offset": -410, "ticks": false, "labels": false, "title": "MOE “Ibertest” con un punto de", "titleFontSize": 26.5, "titleX": 158.7, "titleY": 350, "titleAlign": "left", "titleBaseline": "alphabetic"}},
             "x2": {"datum": 0.879},
             "y": {"field": "q1", "type": "quantitative", "axis": {"orient": "right", "offset": -458, "labels": false, "values": [4050, 4100, 4150, 4250, 4300, 4350, 4450, 4500, 4550, 4650, 4700, 4750, 4850, 4900, 4950, 5050, 5100, 5150], "tickSize": 4, "tickWidth": 1.5, "title": null}},
             "y2": {"field": "q3"}
           }},
          {"mark": {"type": "rule", "color": "#1a1aff", "strokeWidth": 2},
           "encoding": {
             "x": {"datum": 0.122, "type": "quantitative", "axis": {"orient": "bottom", "offset": -410, "ticks": false, "labels": false, "title": "carga centro en MPa (12).", "titleFontSize": 26.5, "titleX": 25.3, "titleY": 383.3, "titleAlign": "left", "titleBaseline": "alphabetic"}},
             "x2": {"datum": 0.879},
             "y": {"field": "median", "type": "quantitative", "axis": {"orient": "left", "offset": -555, "labels": false, "values": [4000, 4200, 4400, 4600, 4800, 5000, 5200], "tickSize": 8, "tickWidth": 1.5, "title": null}}
           }},
          {"transform": [{"fold": ["lo", "hi"], "as": ["end", "value"]}],
           "mark": {"type": "rule", "color": "#1a1aff", "strokeWidth": 1.5},
           "encoding": {
             "x": {"datum": 0.405, "type": "quantitative", "axis": null},
             "x2": {"datum": 0.595},
             "y": {"field": "value", "type": "quantitative", "axis": {"orient": "left", "offset": -555, "labels": false, "values": [4050, 4100, 4150, 4250, 4300, 4350, 4450, 4500, 4550, 4650, 4700, 4750, 4850, 4900, 4950, 5050, 5100, 5150], "tickSize": 4, "tickWidth": 1.5, "title": null}}
           }},
          {"mark": {"type": "point", "shape": "cross", "filled": true, "color": "#ff0000", "size": 14},
           "encoding": {"x": {"datum": 0.5, "type": "quantitative", "axis": null}, "y": {"field": "mean", "type": "quantitative", "axis": null}}}
         ]}
      ]
    }
  ]
}
